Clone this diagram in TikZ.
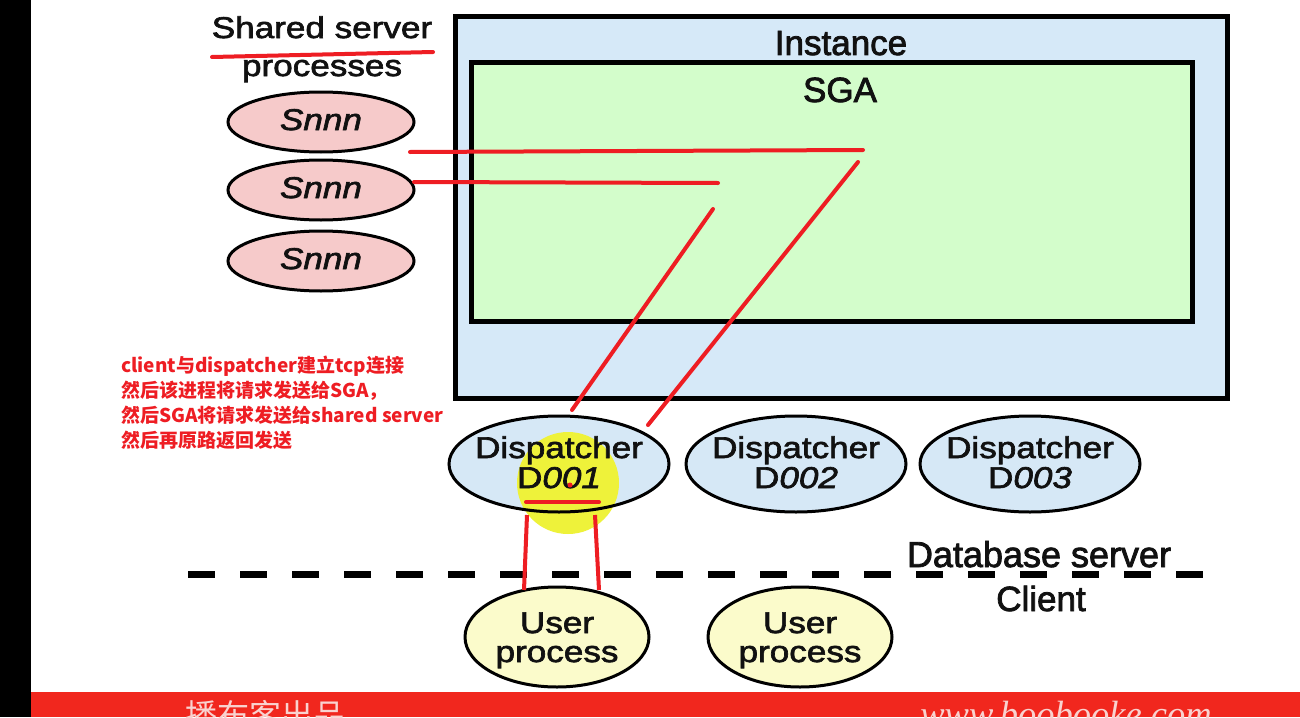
\documentclass[tikz,border=0pt]{standalone}
\usepackage{fontspec}
\setmainfont{Liberation Sans}[FakeBold=2.2]
\newfontfamily\widesans{Liberation Sans}[FakeStretch=1.17, FakeBold=2.2]
\newfontfamily\cjk{Noto Sans CJK SC}
\newfontfamily\serifit{Liberation Serif}
\usetikzlibrary{shapes.geometric}
\definecolor{instfill}{HTML}{D6E9F8}
\definecolor{sgafill}{HTML}{D3FDCB}
\definecolor{snnnfill}{HTML}{F6CACA}
\definecolor{dispfill}{HTML}{D6E8F6}
\definecolor{userfill}{HTML}{FBFBCB}
\definecolor{penred}{HTML}{EE1D23}
\definecolor{hilite}{HTML}{EEF23A}
\definecolor{barred}{HTML}{F1271E}
\definecolor{bartext}{HTML}{F9D2CF}
\definecolor{ink}{HTML}{111111}
\tikzset{
  big/.style={font=\fontsize{35}{35}\selectfont, text=ink, inner sep=0pt, anchor=base},
  wide/.style={font=\widesans\fontsize{30}{30}\selectfont, text=ink},
  widelbl/.style={wide, inner sep=0pt, anchor=base},
  boxline/.style={draw=black, line width=5pt},
  snnn/.style={ellipse, draw=black, line width=3pt, fill=snnnfill, minimum width=186pt, minimum height=60pt, inner sep=0pt, wide, text height=22pt, text depth=6pt},
  disp/.style={ellipse, draw=black, line width=3pt, fill=dispfill, minimum width=220pt, minimum height=96pt, inner xsep=-10pt, inner ysep=0pt, wide, align=center, text height=52pt, text depth=4pt},
  userp/.style={ellipse, draw=black, line width=3pt, fill=userfill, minimum width=184pt, minimum height=100pt, inner xsep=-5pt, inner ysep=0pt, font=\widesans\fontsize{30}{29}\selectfont, text=ink, align=center, text height=51pt, text depth=1pt},
  pen/.style={draw=penred, line width=4pt, line cap=round},
  note/.style={text=penred, font=\cjk\bfseries\fontsize{19}{25}\selectfont, align=left, anchor=north west, inner sep=0pt},
}
\begin{document}
\begin{tikzpicture}[x=1pt,y=-1pt]
\useasboundingbox (0,0) rectangle (1300,717);
\fill[white] (0,0) rectangle (1300,717);
% side strip and bottom bar
\fill[black] (0,0) rectangle (31,717);
\fill[barred] (31,692) rectangle (1300,717);
\node[anchor=base, text=bartext, font=\cjk\fontsize{32}{32}\selectfont, inner sep=0pt] (brand) at (265,727) {播布客出品};
\node[anchor=base, text=bartext, font=\serifit\itshape\fontsize{36.5}{36.5}\selectfont, inner sep=0pt] (site) at (1066,726) {www.boobooke.com};

% instance and SGA
\node[boxline, fill=instfill, rectangle, minimum width=772pt, minimum height=381pt, inner sep=0pt] (inst) at (841,207.5) {};
\node[big] (instlbl) at (841,55) {Instance};
\node[boxline, fill=sgafill, rectangle, minimum width=721pt, minimum height=258pt, inner sep=0pt] (sga) at (831.5,192) {};
\node[big] (sgalbl) at (840,102) {SGA};

% shared server processes
\node[widelbl] (sslbl) at (322,38) {Shared server};
\node[widelbl] (proclbl) at (322,76) {processes};
\node[snnn] (s1) at (321,122) {\itshape Snnn};
\node[snnn] (s2) at (321,190) {\itshape Snnn};
\node[snnn] (s3) at (321,261) {\itshape Snnn};

% dispatchers
\fill[dispfill] (559,464) ellipse [x radius=110pt, y radius=48pt];
\fill[hilite] (568,483) circle [radius=51pt];
\node[disp, fill=none] (d1) at (559,464) {Dispatcher\\D\textit{001}};
\node[disp] (d2) at (796,464) {Dispatcher\\D\textit{002}};
\node[disp] (d3) at (1030,464) {Dispatcher\\D\textit{003}};
\fill[penred] (570,485) circle [radius=2.5pt];

% dashed boundary
\coordinate (dl) at (188,574);
\coordinate (dr) at (1203,574);
\draw[line width=7pt, dash pattern=on 27pt off 25pt] (dl) -- (dr);
\node[big, font=\fontsize{36}{36}\selectfont] (dbs) at (1039,567) {Database server};
\node[big] (cli) at (1041,611) {Client};

% user processes
\node[userp] (u1) at (557,637) {User\\process};
\node[userp] (u2) at (800,637) {User\\process};

% annotation
\node[note] (ann) at (121,356) {client与dispatcher建立tcp连接\\然后该进程将请求发送给SGA，\\然后SGA将请求发送给shared server\\然后再原路返回发送};

% red pen strokes
\coordinate (ul1) at (212,57);
\coordinate (ul2) at (433,52);
\draw[pen] (ul1) -- (ul2);
\coordinate (a1) at (410,152);
\coordinate (a2) at (863,150);
\draw[pen] (a1) -- (a2);
\coordinate (b1) at (414,182);
\coordinate (b2) at (718,183);
\draw[pen] (b1) -- (b2);
\coordinate (c1) at (713,209);
\coordinate (c2) at (572,410);
\draw[pen] (c1) -- (c2);
\coordinate (e1) at (858,162);
\coordinate (e2) at (648,425);
\draw[pen] (e1) -- (e2);
\coordinate (f1) at (526,502);
\coordinate (f2) at (599,502);
\draw[pen] (f1) -- (f2);
\coordinate (g1) at (527,515);
\coordinate (g2) at (524,590);
\draw[pen, line cap=butt] (g1) -- (g2);
\coordinate (h1) at (595,515);
\coordinate (h2) at (599,590);
\draw[pen, line cap=butt] (h1) -- (h2);
\end{tikzpicture}
\end{document}
